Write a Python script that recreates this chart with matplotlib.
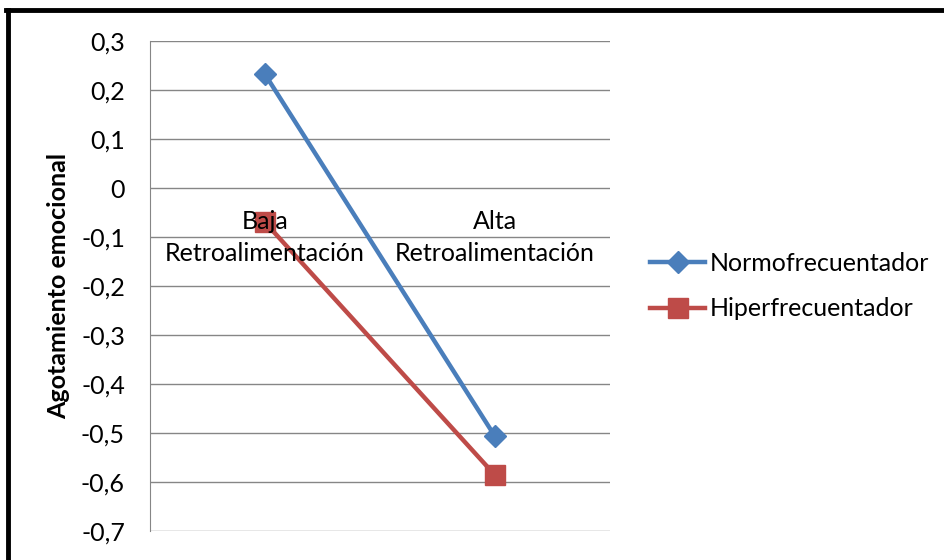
import matplotlib
matplotlib.use("Agg")
import matplotlib.pyplot as plt
from matplotlib.lines import Line2D
from matplotlib.ticker import FuncFormatter

plt.rcParams['font.family'] = ['Lato', 'DejaVu Sans']

categories = ["Baja\nRetroalimentación", "Alta\nRetroalimentación"]
normo = [0.232, -0.507]
hiper = [-0.070, -0.586]
series_names = ["Normofrecuentador", "Hiperfrecuentador"]
yticks = [0.3, 0.2, 0.1, 0.0, -0.1, -0.2, -0.3, -0.4, -0.5, -0.6, -0.7]

FS = 18

fig = plt.figure(figsize=(9.45, 5.6), dpi=100)
ax = fig.add_axes([150/945, 1-531/560, 460/945, 490/560])

x = list(range(len(categories)))
ax.plot(x, normo, color="#4A7EBB", lw=3.2, marker="D", ms=11, label=series_names[0], zorder=3)
ax.plot(x, hiper, color="#BE4B48", lw=3.2, marker="s", ms=14, label=series_names[1], zorder=3)

ax.set_xlim(-0.5, 1.5)
ax.set_ylim(-0.7, 0.3)
ax.set_yticks(yticks)
ax.yaxis.set_major_formatter(FuncFormatter(lambda v, p: ("%g" % round(v, 1)).replace(".", ",")))
ax.grid(axis="y", color="#868686", lw=1)
ax.set_axisbelow(True)
for s in ["top", "right", "bottom"]:
    ax.spines[s].set_visible(False)
ax.spines["left"].set_color("#868686")
ax.tick_params(axis="y", length=0, pad=18, labelsize=FS)
ax.set_xticks([])

for i, c in enumerate(categories):
    ax.annotate(c, xy=(i, 0), xytext=(0, -16), textcoords="offset points",
                ha="center", va="top", fontsize=FS, linespacing=1.45, zorder=4)

ax.set_ylabel("Agotamiento emocional", fontsize=FS, fontweight="bold", labelpad=8)

leg = ax.legend(loc="center left", bbox_to_anchor=(1.087, 0.5), frameon=False,
                fontsize=FS, handlelength=2.2, handletextpad=0.2, labelspacing=0.9,
                borderaxespad=0, borderpad=0)

fig.add_artist(Line2D([6/945, 1], [1-9.5/560, 1-9.5/560], color="black", lw=3.5, transform=fig.transFigure))
fig.add_artist(Line2D([8/945, 8/945], [0, 1-9.5/560], color="black", lw=3.5, transform=fig.transFigure))

fig.savefig("out.png", dpi=100)
